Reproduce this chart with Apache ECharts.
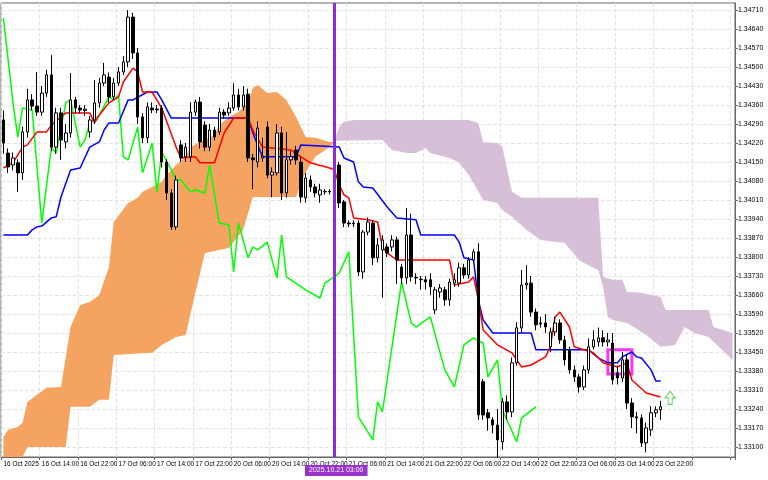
<!DOCTYPE html>
<html>
<head>
<meta charset="utf-8">
<script src="https://cdn.jsdelivr.net/npm/echarts@6/dist/echarts.min.js"></script>
<style>html,body{margin:0;padding:0;background:#fff}#chart{width:768px;height:480px}</style>
</head>
<body>
<div id="chart"></div>
<script>
// time labels, one every 8 hourly bars
var timeLabels = ['16 Oct 2025','16 Oct 14:00','16 Oct 22:00','17 Oct 06:00','17 Oct 14:00','17 Oct 22:00',
	'20 Oct 06:00','20 Oct 14:00','20 Oct 22:00','21 Oct 06:00','21 Oct 14:00','21 Oct 22:00',
	'22 Oct 06:00','22 Oct 14:00','22 Oct 22:00','23 Oct 06:00','23 Oct 14:00','23 Oct 22:00'];
var priceTicks = [1.34710,1.34640,1.34570,1.34500,1.34430,1.34360,1.34290,1.34220,1.34150,1.34080,1.34010,
	1.33940,1.33870,1.33800,1.33730,1.33660,1.33590,1.33520,1.33450,1.33380,1.33310,1.33240,1.33170,1.33100];
var lastPrice = 1.33248;

// candles [open, close, low, high]
var candles = [
[1.34305,1.34220,1.34180,1.34340],[1.34183,1.34132,1.34110,1.34200],[1.34139,1.34165,1.34120,1.34185],[1.34147,1.34110,1.34040,1.34160],
[1.34110,1.34261,1.34084,1.34280],[1.34261,1.34379,1.34240,1.34420],[1.34379,1.34356,1.34340,1.34400],[1.34356,1.34334,1.34320,1.34482],
[1.34334,1.34404,1.34320,1.34430],[1.34404,1.34471,1.34390,1.34490],[1.34471,1.34205,1.34190,1.34544],[1.34205,1.34331,1.34180,1.34350],
[1.34331,1.34231,1.34158,1.34350],[1.34224,1.34257,1.34200,1.34290],[1.34257,1.34379,1.34240,1.34478],[1.34379,1.34349,1.34330,1.34390],
[1.34349,1.34342,1.34330,1.34360],[1.34340,1.34345,1.34320,1.34360],[1.34261,1.34305,1.34240,1.34320],[1.34305,1.34368,1.34290,1.34452],
[1.34368,1.34441,1.34350,1.34460],[1.34441,1.34471,1.34430,1.34515],[1.34463,1.34390,1.34370,1.34480],[1.34390,1.34441,1.34380,1.34460],
[1.34441,1.34482,1.34430,1.34500],[1.34482,1.34519,1.34470,1.34540],[1.34519,1.34684,1.34500,1.34710],[1.34684,1.34552,1.34530,1.34700],
[1.34552,1.34316,1.34290,1.34570],[1.34316,1.34239,1.34220,1.34330],[1.34239,1.34353,1.34220,1.34370],[1.34349,1.34342,1.34330,1.34370],
[1.34345,1.34342,1.34330,1.34360],[1.34349,1.34150,1.34130,1.34360],[1.34150,1.34036,1.34010,1.34160],[1.34036,1.33911,1.33900,1.34050],
[1.33911,1.34084,1.33900,1.34100],[1.34213,1.34165,1.34150,1.34230],[1.34169,1.34205,1.34150,1.34220],[1.34169,1.34334,1.34150,1.34370],
[1.34334,1.34371,1.34320,1.34380],[1.34371,1.34224,1.34200,1.34390],[1.34286,1.34205,1.34190,1.34300],[1.34205,1.34268,1.34190,1.34290],
[1.34268,1.34242,1.34230,1.34280],[1.34261,1.34334,1.34250,1.34350],[1.34334,1.34323,1.34310,1.34345],[1.34331,1.34349,1.34320,1.34370],
[1.34349,1.34397,1.34340,1.34440],[1.34397,1.34353,1.34340,1.34420],[1.34353,1.34397,1.34340,1.34430],[1.34400,1.34165,1.34150,1.34420],
[1.34165,1.34158,1.34050,1.34180],[1.34150,1.34275,1.34130,1.34300],[1.34165,1.34172,1.34150,1.34240],[1.34279,1.34102,1.34090,1.34300],
[1.34102,1.34113,1.34020,1.34130],[1.34110,1.34257,1.34100,1.34290],[1.34257,1.34036,1.34010,1.34280],[1.34036,1.34158,1.34020,1.34260],
[1.34158,1.34169,1.34140,1.34190],[1.34194,1.34158,1.34140,1.34210],[1.34150,1.34021,1.34000,1.34170],[1.34018,1.34091,1.34000,1.34110],
[1.34084,1.34058,1.34040,1.34100],[1.34058,1.34036,1.34020,1.34070],[1.34029,1.34047,1.34000,1.34070],[1.34040,1.34042,1.34030,1.34050],
[1.34042,1.34040,1.34030,1.34050],[1.34040,1.34135,1.34030,1.34150],[1.34139,1.33999,1.33980,1.34150],[1.34003,1.33925,1.33910,1.34010],
[1.33925,1.33922,1.33910,1.33935],[1.33922,1.33925,1.33910,1.33935],[1.33925,1.33745,1.33730,1.33935],[1.33745,1.33892,1.33720,1.33900],
[1.33892,1.33929,1.33880,1.33945],[1.33925,1.33797,1.33770,1.33935],[1.33797,1.33844,1.33780,1.33870],[1.33826,1.33863,1.33650,1.33880],
[1.33837,1.33815,1.33800,1.33850],[1.33837,1.33863,1.33820,1.33880],[1.33863,1.33789,1.33700,1.33875],[1.33763,1.33723,1.33700,1.33775],
[1.33723,1.33881,1.33700,1.33980],[1.33881,1.33727,1.33710,1.33960],[1.33725,1.33723,1.33700,1.33740],[1.33718,1.33716,1.33680,1.33730],
[1.33716,1.33708,1.33680,1.33730],[1.33716,1.33690,1.33660,1.33740],[1.33605,1.33679,1.33590,1.33690],[1.33671,1.33686,1.33650,1.33700],
[1.33679,1.33642,1.33620,1.33690],[1.33642,1.33708,1.33620,1.33720],[1.33704,1.33716,1.33690,1.33740],[1.33704,1.33760,1.33690,1.33780],
[1.33760,1.33734,1.33720,1.33775],[1.33734,1.33789,1.33720,1.33800],[1.33789,1.33819,1.33780,1.33830],[1.33819,1.33218,1.33200,1.33850],
[1.33340,1.33218,1.33200,1.33350],[1.33226,1.33207,1.33160,1.33240],[1.33200,1.33181,1.33150,1.33210],[1.33181,1.33126,1.33060,1.33240],
[1.33119,1.33266,1.33090,1.33280],[1.33266,1.33229,1.33200,1.33290],[1.33229,1.33410,1.33210,1.33430],[1.33410,1.33539,1.33400,1.33560],
[1.33539,1.33697,1.33520,1.33752],[1.33697,1.33704,1.33680,1.33770],[1.33704,1.33597,1.33580,1.33730],[1.33597,1.33550,1.33530,1.33610],
[1.33557,1.33553,1.33540,1.33580],[1.33557,1.33542,1.33520,1.33590],[1.33469,1.33524,1.33450,1.33540],[1.33524,1.33557,1.33510,1.33580],
[1.33557,1.33494,1.33480,1.33570],[1.33494,1.33421,1.33400,1.33510],[1.33458,1.33384,1.33370,1.33470],[1.33384,1.33358,1.33340,1.33400],
[1.33358,1.33321,1.33300,1.33370],[1.33321,1.33384,1.33310,1.33400],[1.33384,1.33469,1.33370,1.33500],[1.33469,1.33494,1.33460,1.33530],
[1.33487,1.33502,1.33470,1.33540],[1.33502,1.33487,1.33470,1.33530],[1.33487,1.33494,1.33470,1.33520],[1.33483,1.33347,1.33330,1.33520],
[1.33373,1.33354,1.33330,1.33400],[1.33354,1.33421,1.33340,1.33450],[1.33421,1.33262,1.33240,1.33440],[1.33262,1.33211,1.33170,1.33280],
[1.33211,1.33207,1.33150,1.33230],[1.33207,1.33115,1.33100,1.33220],[1.33115,1.33170,1.33080,1.33190],[1.33163,1.33226,1.33140,1.33250],
[1.33226,1.33237,1.33210,1.33250],[1.33237,1.33248,1.33200,1.33270]
];

// ichimoku lines, [bar index, price]
var tenkan = [[0,1.34128],[2,1.34147],[4,1.34205],[5,1.34213],[7,1.34261],[9,1.34261],[10,1.34286],[13,1.34331],[18,1.34331],[19,1.34294],
[20,1.34323],[22,1.34368],[24,1.34390],[25,1.34445],[27,1.34496],[28,1.34482],[29,1.34408],[31,1.34408],[33,1.34349],[36,1.34205],
[37,1.34165],[40,1.34169],[41,1.34147],[44,1.34147],[46,1.34257],[48,1.34312],[51,1.34312],[52,1.34268],[54,1.34205],[60,1.34194],
[62,1.34169],[64,1.34147],[68,1.34128],[69,1.34121],[70,1.34065],[71,1.34029],[72,1.34018],[73,1.33944],[76,1.33937],[78,1.33929],
[79,1.33837],[80,1.33815],[82,1.33789],[93,1.33789],[94,1.33697],[97,1.33708],[98,1.33727],[99,1.33642],[100,1.33531],[103,1.33476],
[106,1.33447],[108,1.33395],[110,1.33402],[113,1.33432],[114,1.33469],[115,1.33579],[116,1.33597],[118,1.33542],[119,1.33469],
[123,1.33447],[125,1.33410],[128,1.33395],[130,1.33410],[131,1.33347],[134,1.33299],[137,1.33284]];
var kijun = [[0,1.33881],[5,1.33881],[6,1.33900],[7,1.33911],[8,1.33914],[10,1.33944],[11,1.33948],[12,1.34021],[14,1.34121],[16,1.34128],
[18,1.34205],[20,1.34224],[21,1.34268],[22,1.34294],[24,1.34294],[26,1.34379],[27,1.34379],[30,1.34408],[32,1.34408],[33,1.34379],
[35,1.34312],[51,1.34312],[52,1.34257],[54,1.34169],[61,1.34169],[62,1.34213],[70,1.34205],[71,1.34165],[73,1.34150],[74,1.34077],
[75,1.34058],[77,1.34054],[80,1.33984],[82,1.33944],[86,1.33937],[87,1.33881],[94,1.33881],[95,1.33855],[96,1.33797],[98,1.33789],
[99,1.33642],[100,1.33568],[102,1.33520],[110,1.33520],[111,1.33458],[122,1.33458],[124,1.33428],[126,1.33410],[128,1.33410],
[129,1.33432],[131,1.33450],[132,1.33432],[133,1.33428],[135,1.33384],[136,1.33343],[137,1.33343]];
var chikou = [[0,1.34681],[2,1.34368],[3,1.34242],[4,1.34349],[6,1.34342],[7,1.34132],[8,1.33925],[10,1.34205],[11,1.34183],[13,1.34368],
[14,1.34379],[16,1.34205],[17,1.34231],[18,1.34294],[20,1.34323],[22,1.34390],[23,1.34379],[24,1.34397],[25,1.34169],[26,1.34158],
[28,1.34279],[29,1.34110],[31,1.34220],[32,1.34040],[33,1.34187],[35,1.34121],[36,1.34084],[37,1.34084],[39,1.34040],[40,1.34047],
[42,1.34036],[43,1.34139],[45,1.33925],[47,1.33918],[48,1.33745],[49,1.33925],[51,1.33797],[52,1.33837],[53,1.33826],[55,1.33855],
[57,1.33723],[58,1.33881],[59,1.33727],[63,1.33679],[66,1.33649],[67,1.33704],[69,1.33727],[70,1.33741],[72,1.33819],[74,1.33211],
[77,1.33126],[78,1.33266],[79,1.33229],[83,1.33708],[85,1.33557],[86,1.33542],[89,1.33579],[92,1.33384],[94,1.33321],[96,1.33476],
[98,1.33502],[100,1.33483],[101,1.33358],[103,1.33421],[104,1.33237],[107,1.33119],[108,1.33207],[111,1.33248]];

// cloud edges
var orangeTop = [[0,1.33137],[1,1.33163],[3,1.33174],[4,1.33189],[5,1.33266],[7,1.33292],[9,1.33318],[12,1.33321],[14,1.33542],[16,1.33623],
[18,1.33634],[20,1.33660],[22,1.33763],[23,1.33929],[26,1.33999],[28,1.34018],[29,1.34040],[31,1.34058],[33,1.34077],[34,1.34102],
[36,1.34139],[38,1.34169],[39,1.34205],[41,1.34224],[44,1.34250],[45,1.34286],[47,1.34316],[49,1.34334],[51,1.34368],[52,1.34423],
[53,1.34434],[55,1.34404],[57,1.34408],[59,1.34379],[61,1.34316],[63,1.34242],[65,1.34239],[68,1.34224],[69,1.34225]];
var orangeBottom = [[0,1.33063],[4,1.33063],[5,1.33100],[13,1.33100],[14,1.33248],[18,1.33248],[20,1.33274],[22,1.33274],[23,1.33439],
[31,1.33447],[33,1.33476],[36,1.33505],[38,1.33513],[40,1.33668],[42,1.33815],[47,1.33833],[50,1.33900],[52,1.34021],[61,1.34021],
[63,1.34113],[65,1.34169],[68,1.34205],[69,1.34225]];
var purpleTop = [[69,1.34228],[70,1.34279],[71,1.34298],[73,1.34305],[97,1.34305],[99,1.34294],[100,1.34224],[103,1.34220],[104,1.34205],
[106,1.34040],[108,1.34018],[124,1.34018],[125,1.33727],[127,1.33716],[129,1.33716],[130,1.33671],[133,1.33668],[137,1.33653],
[138,1.33605],[147,1.33605],[148,1.33542],[152,1.33520]];
var purpleBottom = [[69,1.34228],[79,1.34231],[81,1.34194],[84,1.34183],[86,1.34183],[88,1.34202],[89,1.34183],[93,1.34165],[95,1.34147],
[97,1.34102],[100,1.34010],[103,1.33999],[104,1.33973],[106,1.33948],[109,1.33900],[112,1.33863],[117,1.33852],[120,1.33789],
[121,1.33778],[124,1.33752],[125,1.33690],[126,1.33579],[127,1.33568],[130,1.33557],[134,1.33513],[137,1.33469],[140,1.33476],
[142,1.33542],[144,1.33520],[147,1.33505],[152,1.33421]];

var barCount = 153;
var categories = [];
for (var i = 0; i < barCount; i++) {
	categories.push(i % 8 == 0 && timeLabels[i / 8] ? timeLabels[i / 8] : '');
}

function cloudSeries(top, bottom, color) {
	return {
		type: 'custom',
		z: 1,
		silent: true,
		data: [[0, top[0][1]]],
		renderItem: function (params, api) {
			var pts = [];
			for (var k = 0; k < top.length; k++) pts.push(api.coord(top[k]));
			for (var k = bottom.length - 1; k >= 0; k--) pts.push(api.coord(bottom[k]));
			return {type: 'polygon', shape: {points: pts}, style: {fill: color}};
		}
	};
}

function lineSeries(data, color) {
	return {type: 'line', data: data, symbol: 'none', z: 3, silent: true,
		lineStyle: {color: color, width: 1.5}};
}

var chart = echarts.init(document.getElementById('chart'));
chart.setOption({
	animation: false,
	backgroundColor: '#ffffff',
	grid: {left: 1, right: 33, top: 3, bottom: 23, show: true, borderColor: '#666', borderWidth: 1},
	xAxis: {
		type: 'category', data: categories, boundaryGap: true,
		axisLine: {lineStyle: {color: '#666'}},
		axisTick: {show: true, interval: 7, length: 3, lineStyle: {color: '#666'}},
		axisLabel: {interval: 7, align: 'left', fontSize: 6.5, color: '#000', margin: 4,
			fontFamily: 'Liberation Sans', hideOverlap: false, showMinLabel: true},
		splitLine: {show: true, interval: 7, lineStyle: {color: '#e4e4e4', type: 'dashed'}}
	},
	yAxis: {
		type: 'value', position: 'right', min: 1.33063, max: 1.34736, scale: true,
		axisLine: {show: true, lineStyle: {color: '#666'}},
		axisTick: {show: true, length: 3, customValues: priceTicks, lineStyle: {color: '#666'}},
		axisLabel: {customValues: priceTicks, fontSize: 7, color: '#000', margin: 3, fontFamily: 'Liberation Sans',
			formatter: function (v) { return v.toFixed(5); }},
		splitLine: {show: true, lineStyle: {color: '#e4e4e4', type: 'dashed'}}
	},
	series: [
		cloudSeries(orangeTop, orangeBottom, '#f4a460'),
		cloudSeries(purpleTop, purpleBottom, '#d8bfd8'),
		lineSeries(chikou, '#00ff00'),
		lineSeries(kijun, '#0000ff'),
		lineSeries(tenkan, '#ff0000'),
		{
			type: 'candlestick', data: candles, barWidth: 3, z: 4, silent: true,
			itemStyle: {color: '#ffffff', color0: '#000000', borderColor: '#000000', borderColor0: '#000000', borderWidth: 1},
			markLine: {
				symbol: 'none', silent: true,
				data: [
					{yAxis: lastPrice, lineStyle: {color: '#b05a5a', width: 1, type: 'solid'},
						label: {show: true, position: 'end', formatter: lastPrice.toFixed(5), color: '#fff',
							backgroundColor: '#e00000', fontSize: 7, padding: [1, 2], distance: 1}},
					{xAxis: 69, lineStyle: {color: '#8a2be2', width: 3, type: 'solid'}, label: {show: false}}
				]
			},
			markArea: {
				silent: true,
				itemStyle: {color: 'rgba(0,0,0,0)', borderColor: '#ff33ff', borderWidth: 3},
				data: [[{xAxis: 126, yAxis: 1.33458}, {xAxis: 131, yAxis: 1.33369}]]
			}
		},
		{
			type: 'scatter', z: 5, silent: true,
			data: [[139, 1.33281]],
			symbol: 'path://M5,0 L10,6 L7,6 L7,12 L3,12 L3,6 L0,6 Z',
			symbolSize: [10, 13],
			itemStyle: {color: '#ffffff', borderColor: '#33cc33', borderWidth: 1}
		}
	],
	graphic: [{
		type: 'text', left: 305, top: 465, z: 10,
		style: {text: '2025.10.21 03:00', fill: '#fff', backgroundColor: '#9932cc', font: '7px "Liberation Sans"', padding: [2, 4]}
	}]
});
</script>
</body>
</html>
